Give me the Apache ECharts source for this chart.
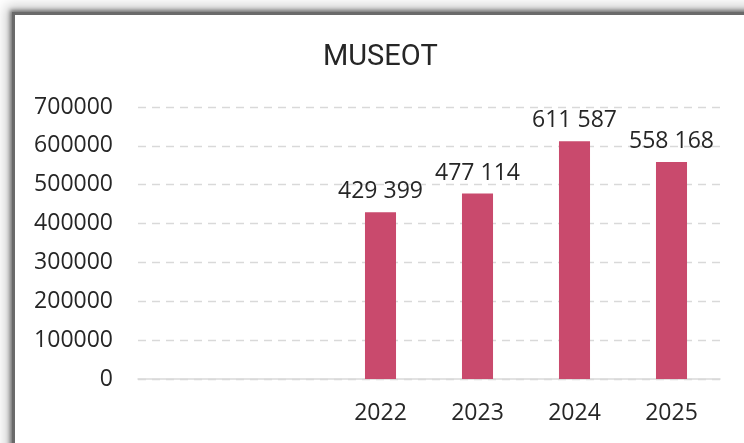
<!DOCTYPE html>
<html><head><meta charset="utf-8">
<script src="https://cdn.jsdelivr.net/npm/echarts@6/dist/echarts.min.js"></script>
<style>
html,body{margin:0;padding:0;background:#fff;width:744px;height:443px;overflow:hidden;}
#frame{position:absolute;left:15px;top:15px;width:800px;height:500px;background:#fff;
 box-shadow:0 0 0 3px #6a6a6a,0 0 4px 5px rgba(0,0,0,0.45),0 0 12px 9px rgba(0,0,0,0.22);}
#chart{position:absolute;left:0;top:0;width:744px;height:443px;}
</style></head>
<body>
<div id="frame"></div>
<div id="chart"></div>
<script>
const title = 'MUSEOT';
const categories = ['', '', '2022', '2023', '2024', '2025'];
const visitors = [null, null, 429399, 477114, 611587, 558168];
const yTicks = [0, 100000, 200000, 300000, 400000, 500000, 600000, 700000];

const fmt = v => String(v).replace(/\B(?=(\d{3})+(?!\d))/g, ' ');
const chart = echarts.init(document.getElementById('chart'), null, {renderer:'canvas'});
chart.setOption({
  backgroundColor: 'transparent',
  animation: false,
  title: {text: title, left: 318, top: 38,
    textStyle: {fontFamily: 'Roboto', fontSize: 29, fontWeight: 'normal', color: '#262626'}},
  grid: {left: 138, right: 24, top: 107, bottom: 64},
  xAxis: {type: 'category', data: categories,
    axisLine: {lineStyle: {color: '#d9d9d9', width: 1.5}},
    axisTick: {show: false},
    axisLabel: {fontFamily: 'Open Sans', fontSize: 23, color: '#262626', margin: 23}},
  yAxis: {type: 'value', min: yTicks[0], max: yTicks[yTicks.length-1], interval: 100000,
    axisLine: {show: false}, axisTick: {show: false},
    splitLine: {lineStyle: {color: '#d9d9d9', type: [8, 6], width: 1.3}},
    axisLabel: {fontFamily: 'Open Sans', fontSize: 23, color: '#262626', margin: 25,
      formatter: v => String(v)}},
  series: [{type: 'bar', data: visitors, barWidth: '32%',
    itemStyle: {color: '#c94a6d'},
    label: {show: true, position: 'top', distance: 9,
      fontFamily: 'Open Sans', fontSize: 23, color: '#262626',
      formatter: p => p.value == null ? '' : fmt(p.value)}}]
});
</script>
</body></html>
